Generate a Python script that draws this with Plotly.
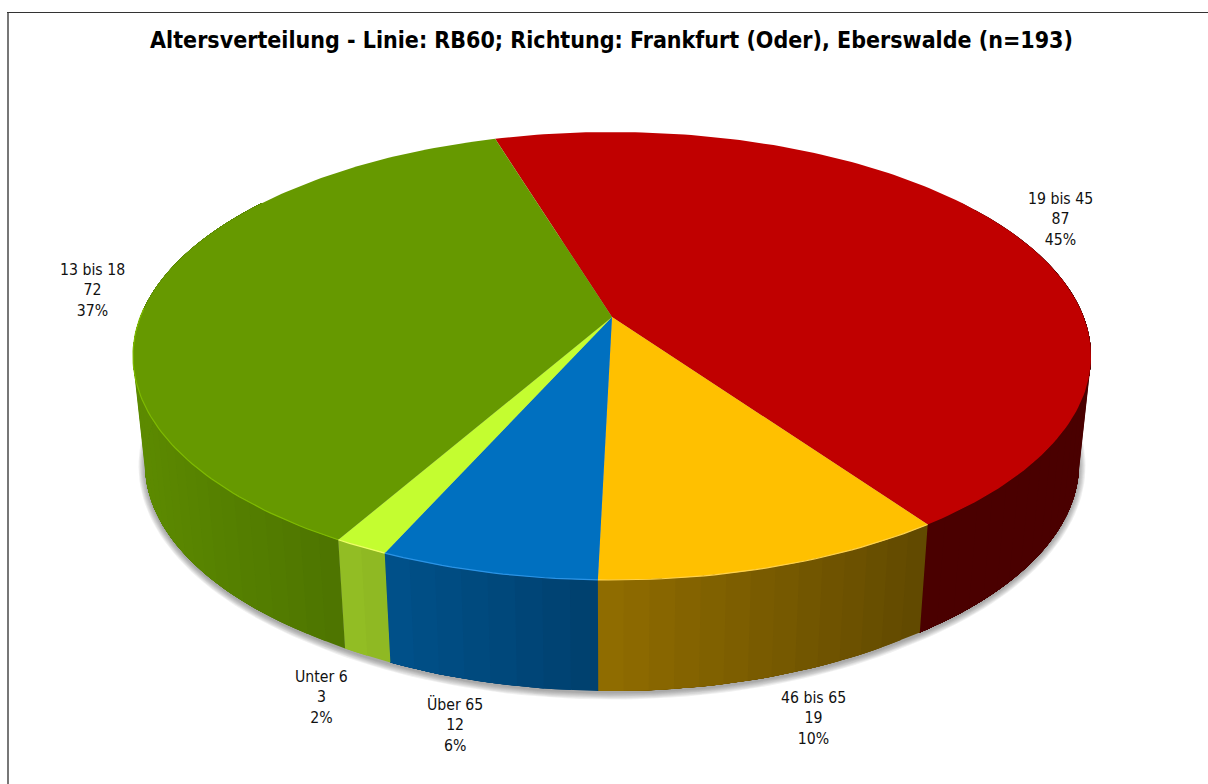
import numpy as np
import plotly.graph_objects as go

# ---- data ----
categories = ["19 bis 45", "46 bis 65", "Über 65", "Unter 6", "13 bis 18"]
values = [87, 19, 12, 3, 72]
title_text = "Altersverteilung - Linie: RB60; Richtung: Frankfurt (Oder), Eberswalde (n=193)"

# ---- styling ----
top_colors = [(192, 0, 0), (255, 192, 0), (0, 112, 192), (196, 253, 48), (102, 153, 0)]
rim_colors = [None, "#ffd24d", "#2b94e6", "#eeff66", "#7fbb00"]
label_pos = [(1060.5, 219), (813, 718), (454.5, 725), (321, 697), (92, 290)]
START = -16.8
W, H = 1208, 784
CX, CY = 612.0, 317.0
A, B, P = 471.7, 217.2, 0.1741
SHRINK = 0.975
FONT = "DejaVu Sans Condensed, DejaVu Sans, sans-serif"
WARP_AT = [START, 145.5, 181.0, 204.0, 209.5, START + 360]
WARP_BY = [0.0, -0.5, 0.5, 0.6, 0.6, 0.0]


def top_xy(theta):
    theta = np.asarray(theta, dtype=float)
    # small correction for the original's perspective
    t = np.radians(theta + np.interp(theta, WARP_AT, WARP_BY))
    u, v = np.sin(t), np.cos(t)
    d = 1 + P * v
    return CX + A * u / d, CY - B * v / d


def bottom_xy(theta):
    x, y = top_xy(theta)
    drop = 108 + 3 * np.clip((y - 530) / 50, 0, 1)
    return CX + (x - CX) * SHRINK, y + drop


def shade(rgb, x):
    f = np.interp(x, [140, 345, 598, 920], [0.90, 0.75, 0.57, 0.385])
    return "rgb(%d,%d,%d)" % tuple(int(round(c * f)) for c in rgb)


fig = go.Figure()


def poly(xs, ys, color):
    fig.add_trace(go.Scatter(
        x=list(xs), y=list(ys), mode="lines", fill="toself", fillcolor=color,
        line=dict(width=0), hoverinfo="skip", showlegend=False))


total = sum(values)
sweeps = [v / total * 360 for v in values]
starts = [START + sum(sweeps[:i]) for i in range(len(values))]

# soft shadow beneath the bottom rim
full = np.linspace(START, START + 360, 241)
bx, by = bottom_xy(full)
for grow in [6.5, 5.5, 4.5, 3.5, 2.5, 1.5, 0.5]:
    sx = CX + (bx - CX) * (1 + grow / 470)
    sy = (by - (CY + 148)) * (1 + grow / 226) + (CY + 148) + 2
    poly(sx, sy, "rgba(60,60,60,0.08)")

# side wall, drawn as bands; each band runs to the slice end and the next paints over it
for s, sw, rgb in zip(starts, sweeps, top_colors):
    lo, hi = max(s, 55), min(s + sw, 305)
    if hi <= lo:
        continue
    n = max(2, int((hi - lo) / 2.5))
    edges = np.linspace(lo, hi, n + 1)
    for a0, a1 in zip(edges[:-1], edges[1:]):
        th = np.linspace(a0, hi, max(2, int((hi - a0) / 1.5) + 2))
        tx, ty = top_xy(th)
        ux, uy = bottom_xy(th[::-1])
        cx0 = (top_xy(a0)[0] + top_xy(a1)[0]) / 2
        poly(np.r_[tx, ux], np.r_[ty, uy], shade(rgb, cx0))

# top face
for s, sw, rgb in zip(starts, sweeps, top_colors):
    th = np.linspace(s, s + sw, max(3, int(sw)))
    x, y = top_xy(th)
    poly(np.r_[CX, x, CX], np.r_[CY, y, CY], "rgb(%d,%d,%d)" % rgb)

# light rim along the front edge
for s, sw, rim in zip(starts, sweeps, rim_colors):
    if rim is None:
        continue
    e = min(s + sw, 272)
    if e <= s:
        continue
    th = np.linspace(s, e, max(3, int(e - s)))
    x, y = top_xy(th)
    fig.add_trace(go.Scatter(x=x, y=y, mode="lines", line=dict(color=rim, width=1.2),
                             hoverinfo="skip", showlegend=False))

# frame
fig.add_trace(go.Scatter(x=[8, 8], y=[H, 12], mode="lines", line=dict(color="#777777", width=2),
                         hoverinfo="skip", showlegend=False))
fig.add_trace(go.Scatter(x=[7, W], y=[12.5, 12.5], mode="lines", line=dict(color="#333333", width=1),
                         hoverinfo="skip", showlegend=False))

# labels
annotations = []
for cat, val, (lx, ly) in zip(categories, values, label_pos):
    annotations.append(dict(
        x=lx, y=ly, xref="x", yref="y", showarrow=False, align="center",
        text=f"{cat}<br>{val}<br>{round(val / total * 100)}%",
        font=dict(family=FONT, size=15.7, color="#111111")))

fig.update_layout(
    width=W, height=H, margin=dict(l=0, r=0, t=0, b=0),
    paper_bgcolor="white", plot_bgcolor="white", showlegend=False,
    title=dict(text=title_text, x=611.5 / W, xanchor="center", xref="paper",
               y=1 - 39.5 / H, yanchor="middle", yref="paper",
               font=dict(family=FONT, size=23, color="black", weight="bold")),
    xaxis=dict(range=[0, W], visible=False, fixedrange=True),
    yaxis=dict(range=[H, 0], visible=False, fixedrange=True),
    annotations=annotations,
)

fig.write_html("out.html", post_script="document.body.style.margin='0';",
               config=dict(displayModeBar=False))
